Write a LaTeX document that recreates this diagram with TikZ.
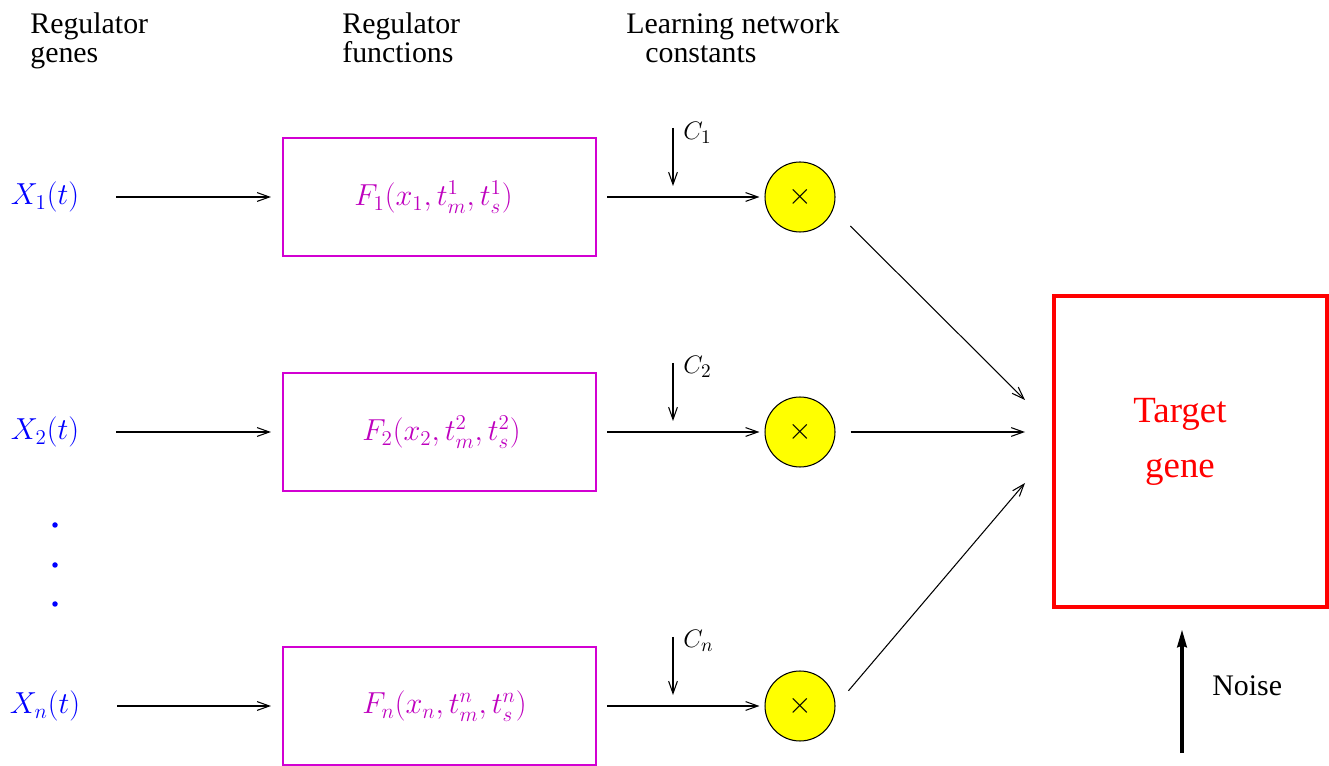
\documentclass[tikz,border=0pt]{standalone}
\usepackage{fontspec}
\setmainfont{Liberation Serif}
\usetikzlibrary{arrows.meta}
\definecolor{mag}{RGB}{210,0,210}
\definecolor{magtext}{RGB}{190,0,190}
\definecolor{gblue}{RGB}{0,0,255}
\definecolor{gred}{RGB}{255,0,0}
\definecolor{gyellow}{RGB}{255,255,0}
\begin{document}
\begin{tikzpicture}[x=0.02cm,y=-0.02cm,
  every node/.style={font=\fontsize{17}{17}\selectfont},
  head/.style={anchor=north west,inner sep=0pt,align=left,font=\fontsize{17}{17}\selectfont},
  reg/.style={inner sep=0pt,text=gblue},
  fbox/.style={draw=mag,line width=1.2pt,minimum width=6.26cm,minimum height=2.36cm,text=magtext,inner sep=0pt},
  mult/.style={circle,draw=black,line width=0.6pt,fill=gyellow,minimum size=1.4cm,inner sep=0pt},
  clab/.style={anchor=west,inner sep=0pt,font=\fontsize{15}{15}\selectfont},
  arr/.style={draw=black,line width=0.6pt,-{Straight Barb[length=7pt,width=5pt]}},
  tbox/.style={draw=gred,line width=2pt,minimum width=5.46cm,minimum height=6.22cm,inner sep=0pt},
  ttext/.style={text=gred,align=center,inner sep=0pt,font=\fontsize{21}{31.7}\selectfont},
  noisearr/.style={draw=black,line width=1.8pt,-{Stealth[length=10pt,width=5.5pt,inset=1pt]}},
  dot/.style={circle,fill=gblue,inner sep=0pt,minimum size=0.11cm}
]
\useasboundingbox (0,0) rectangle (1329,766);

% headers
\node[head] (h1) at (30,12) {Regulator\\genes};
\node[head] (h2) at (342,12) {Regulator\\functions};
\node[head] (h3) at (626,12) {Learning network\\\hspace*{0.38cm}constants};

% regulator genes
\node[reg] (x1) at (45,197) {$X_1(t)$};
\node[reg] (x2) at (45,432) {$X_2(t)$};
\node[reg] (xn) at (45,706) {$X_n(t)$};
\node[dot] (d1) at (55,525) {};
\node[dot] (d2) at (55,565) {};
\node[dot] (d3) at (55,604) {};

% regulator functions
\node[fbox] (f1) at (439.5,197) {$F_1(x_1,t_m^1,t_s^1)$\hspace*{0.24cm}};
\node[fbox] (f2) at (439.5,432) {\hspace*{0.08cm}$F_2(x_2,t_m^2,t_s^2)$};
\node[fbox] (fn) at (439.5,706) {\hspace*{0.2cm}$F_n(x_n,t_m^n,t_s^n)$};

% multipliers
\node[mult] (m1) at (800,197) {$\times$};
\node[mult] (m2) at (800,432) {$\times$};
\node[mult] (mn) at (800,706) {$\times$};

% constants
\coordinate (ca1) at (673,128); \coordinate (cb1) at (673,186);
\coordinate (ca2) at (673,363); \coordinate (cb2) at (673,421);
\coordinate (can) at (673,637); \coordinate (cbn) at (673,695);
\node[clab] (c1) at (683,133) {$C_1$};
\node[clab] (c2) at (683,367) {$C_2$};
\node[clab] (cn) at (683,641) {$C_n$};

% target
\node[tbox] (tg) at (1190.5,451.5) {};
\node[ttext] (tt) at (1180,442) {Target\\gene};
\coordinate (in1) at (1025,400);
\coordinate (in2) at (1025,432);
\coordinate (in3) at (1025,483);

% noise
\coordinate (nz) at (1182,753);
\node[anchor=base west,inner sep=0pt] (nl) at (1212,695) {Noise};

% connectors
\draw[arr,shorten <=0.74cm,shorten >=0.22cm] (x1.east |- f1.west) -- (f1.west);
\draw[arr,shorten <=0.74cm,shorten >=0.22cm] (x2.east |- f2.west) -- (f2.west);
\draw[arr,shorten <=0.74cm,shorten >=0.22cm] (xn.east |- fn.west) -- (fn.west);
\draw[arr,shorten <=0.2cm,shorten >=0.1cm] (f1.east) -- (m1.west);
\draw[arr,shorten <=0.2cm,shorten >=0.1cm] (f2.east) -- (m2.west);
\draw[arr,shorten <=0.2cm,shorten >=0.1cm] (fn.east) -- (mn.west);
\draw[arr] (ca1) -- (cb1);
\draw[arr] (ca2) -- (cb2);
\draw[arr] (can) -- (cbn);
\draw[arr,shorten <=0.48cm] (m1.-20) -- (in1);
\draw[arr,shorten <=0.3cm] (m2.east) -- (in2);
\draw[arr,shorten <=0.4cm] (mn.east) -- (in3);
\draw[noisearr,shorten >=0.42cm] (nz) -- (nz |- tg.south);
\end{tikzpicture}
\end{document}
